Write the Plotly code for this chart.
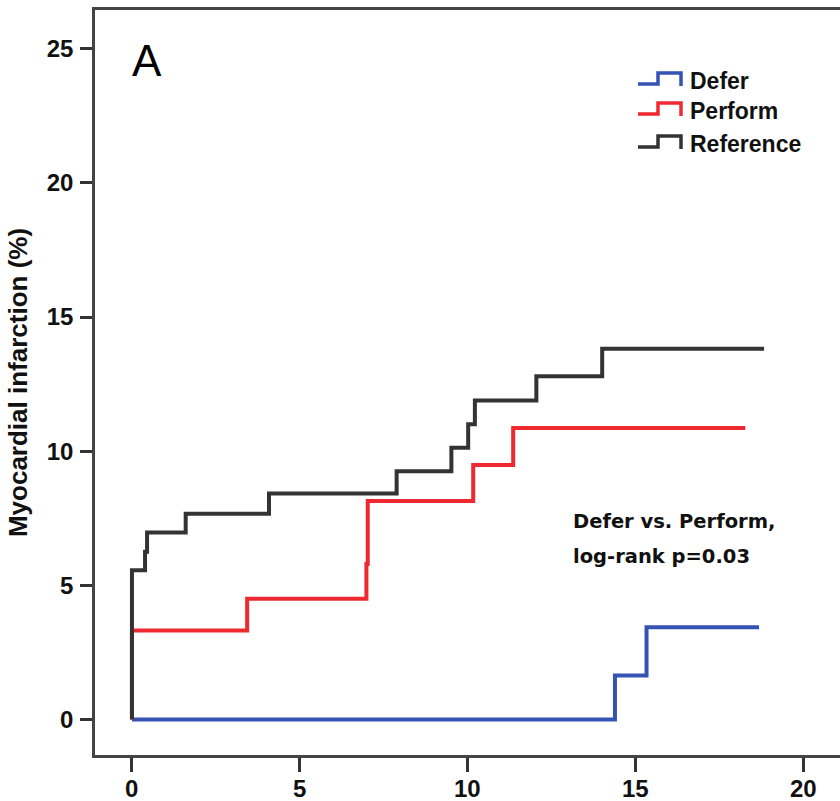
import plotly.graph_objects as go

# Cumulative incidence of myocardial infarction (%) by follow-up time
defer_t = [0, 14.38, 15.32, 18.67]
defer_y = [0, 1.64, 3.44, 3.44]

perform_t = [0, 0, 3.43, 6.98, 7.02, 10.16, 11.35, 18.26]
perform_y = [0, 3.32, 4.50, 5.80, 8.14, 9.49, 10.86, 10.86]

reference_t = [0, 0, 0.39, 0.45, 1.60, 4.08, 7.88, 9.51, 10.01, 10.21, 12.04, 14.00, 18.82]
reference_y = [0, 5.56, 6.25, 6.97, 7.67, 8.42, 9.25, 10.13, 11.00, 11.89, 12.79, 13.82, 13.82]

group_names = ["Defer", "Perform", "Reference"]
group_colors = ["#3553b3", "#ee2a30", "#333333"]

x_ticks = [0, 5, 10, 15, 20]
y_ticks = [0, 5, 10, 15, 20, 25]

stat_lines = ["Defer vs. Perform,", "log-rank p=0.03"]

sans = "Liberation Sans, Arial, sans-serif"
tick_font = dict(family=sans, size=24, color="#111111", weight="bold")

fig = go.Figure()
series = [(defer_t, defer_y), (perform_t, perform_y), (reference_t, reference_y)]
for (t, y), name, color in zip(series, group_names, group_colors):
    fig.add_trace(go.Scatter(
        x=t, y=y, mode="lines", name=name,
        line=dict(color=color, width=4, shape="hv"),
        showlegend=False,
    ))

fig_w, fig_h = 840, 801
m_l, m_r, m_t, m_b = 95, 0, 10, 46
pw, ph = fig_w - m_l - m_r, fig_h - m_t - m_b


def px_to_paper(px, py):
    return (px - m_l) / pw, 1 - (py - m_t) / ph


# x tick labels placed just under the tick marks
for v in x_ticks:
    _, ly = px_to_paper(0, 788)
    fig.add_annotation(x=v, y=ly, xref="x", yref="paper", text=str(v),
                       showarrow=False, xanchor="center", yanchor="middle",
                       font=tick_font)

# Legend drawn as step-shaped keys with bold labels
key_rows = [84, 114, 147]  # pixel rows of key baselines
for name, color, row in zip(group_names, group_colors, key_rows):
    pts = [(638, row), (658, row), (658, row - 11), (681, row - 11), (681, row + 2)]
    path = ""
    for i, (px, py) in enumerate(pts):
        xp, yp = px_to_paper(px, py)
        path += ("M" if i == 0 else "L") + f"{xp:.5f},{yp:.5f} "
    fig.add_shape(type="path", path=path, xref="paper", yref="paper",
                  line=dict(color=color, width=3.5))
    tx, ty = px_to_paper(688, row - 3)
    fig.add_annotation(x=tx, y=ty, xref="paper", yref="paper", text=name,
                       showarrow=False, xanchor="left", yanchor="middle",
                       font=dict(family=sans, size=23, color="#111111", weight="bold"))

# Panel letter
ax_, ay_ = px_to_paper(147, 60)
fig.add_annotation(x=ax_, y=ay_, xref="paper", yref="paper", text="A",
                   showarrow=False, xanchor="center", yanchor="middle",
                   font=dict(family=sans, size=44, color="#000000"))

# Test result, one annotation per line
for line, row in zip(stat_lines, [521, 556]):
    sx, sy = px_to_paper(571, row)
    fig.add_annotation(x=sx, y=sy, xref="paper", yref="paper", text=line,
                       showarrow=False, xanchor="left", yanchor="middle",
                       font=dict(family="DejaVu Sans, sans-serif", size=19.5,
                                 color="#111111", weight="bold"))

fig.update_layout(
    width=fig_w, height=fig_h,
    margin=dict(l=m_l, r=m_r, t=m_t, b=m_b, autoexpand=False),
    paper_bgcolor="white", plot_bgcolor="white",
    xaxis=dict(
        range=[-1.10, 21.08], tickvals=x_ticks, showticklabels=False,
        showgrid=False, zeroline=False, showline=True, linecolor="#444444", linewidth=2.5,
        mirror=True, ticks="outside", ticklen=14, tickwidth=2.5, tickcolor="#333333",
        automargin=False,
    ),
    yaxis=dict(
        range=[-1.32, 26.44], tickvals=y_ticks, ticktext=[str(v) for v in y_ticks],
        showgrid=False, zeroline=False, showline=True, linecolor="#444444", linewidth=2.5,
        ticks="outside", ticklen=12, tickwidth=2.5, tickcolor="#333333",
        tickfont=tick_font, ticklabelstandoff=2, automargin=False,
        title=dict(text="Myocardial infarction (%)", standoff=12,
                   font=dict(family=sans, size=26, color="#111111", weight="bold")),
    ),
)

fig.write_html("out.html")
